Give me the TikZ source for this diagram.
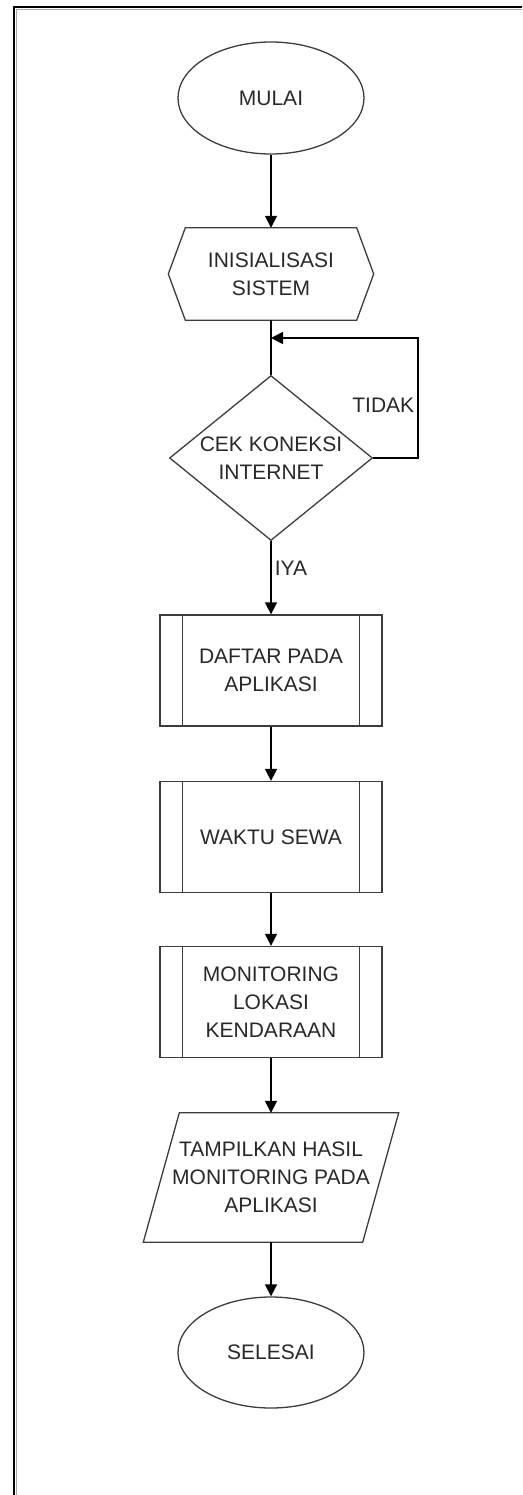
\documentclass[tikz,border=0pt]{standalone}
\usepackage{fontspec}
\setmainfont{Liberation Sans}
\definecolor{ink}{RGB}{40,40,40}
\definecolor{rim}{RGB}{60,60,60}
\usetikzlibrary{arrows.meta,shapes.geometric}
\tikzset{
  base/.style={align=center,text=ink,inner sep=0pt,
               font=\fontsize{21}{28}\selectfont},
  term/.style={base,draw=rim,line width=1.3pt,ellipse,minimum width=186,minimum height=112},
  prep/.style={base,minimum width=205,minimum height=92},
  dec/.style={base,draw=rim,line width=1.3pt,diamond,aspect=1.23,minimum width=203,minimum height=165},
  pproc/.style={base,draw=rim,line width=1.3pt,minimum width=222,minimum height=111},
  io/.style={base,minimum width=219,minimum height=129},
  edge/.style={draw=rim,line width=1.3pt},
  arr/.style={-{Triangle[length=12pt,width=12pt]},line width=1.6pt},
  lbl/.style={base,inner sep=3pt},
}
\begin{document}
\begin{tikzpicture}[x=1pt,y=-1pt]
  \useasboundingbox (0,0) rectangle (522,1495);
  \draw[black!35,line width=1.5pt] (16.5,1495) -- (16.5,9.5) -- (522,9.5);
  \draw[line width=2pt] (14,1495) -- (14,7) -- (522,7);
  \node[term] (mulai) at (271,98) {MULAI};
  \node[prep] (init) at (271,274) {INISIALISASI\\SISTEM};
  \draw[edge] (init.west) -- ([xshift=17pt]init.north west) -- ([xshift=-17pt]init.north east)
    -- (init.east) -- ([xshift=-17pt]init.south east) -- ([xshift=17pt]init.south west) -- cycle;
  \node[dec] (cek) at (271,458) {CEK KONEKSI\\INTERNET};
  \node[pproc] (daftar) at (271,670.5) {DAFTAR PADA\\APLIKASI};
  \node[pproc] (sewa) at (271,837) {WAKTU SEWA};
  \node[pproc] (monitor) at (271,1002) {MONITORING\\LOKASI\\KENDARAAN};
  \foreach \n in {daftar,sewa,monitor}{
    \draw[edge] ([xshift=23pt]\n.north west) -- ([xshift=23pt]\n.south west);
    \draw[edge] ([xshift=-23pt]\n.north east) -- ([xshift=-23pt]\n.south east);
  }
  \node[io] (tampil) at (271,1177.5) {TAMPILKAN HASIL\\MONITORING PADA\\APLIKASI};
  \draw[edge] ([xshift=18pt]tampil.north west) -- ([xshift=18pt]tampil.north east)
    -- ([xshift=-18pt]tampil.south east) -- ([xshift=-18pt]tampil.south west) -- cycle;
  \node[term,minimum height=111] (selesai) at (271,1352.5) {SELESAI};
  \coordinate (balik) at (418,338);
  \draw[arr] (mulai) -- (init);
  \draw[line width=1.6pt] (init) -- (cek);
  \draw[arr] (cek.east) -| node[lbl,pos=0.72,left]{TIDAK} (balik) -- (balik -| init.south);
  \draw[arr] (cek) -- node[lbl,pos=0.37,right]{IYA} (daftar);
  \draw[arr] (daftar) -- (sewa);
  \draw[arr] (sewa) -- (monitor);
  \draw[arr] (monitor) -- (tampil);
  \draw[arr] (tampil) -- (selesai);
\end{tikzpicture}
\end{document}
